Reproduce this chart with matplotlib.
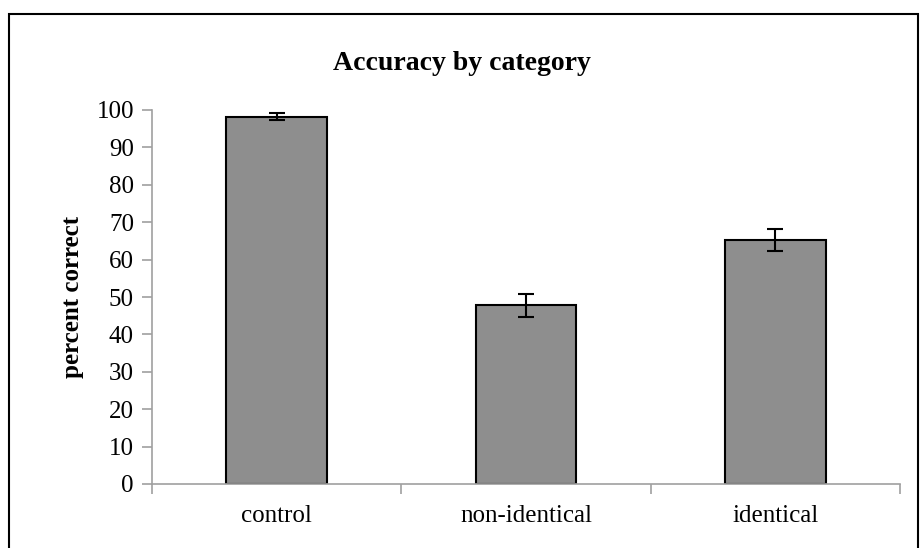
import matplotlib.pyplot as plt
from matplotlib.patches import Rectangle

# data
categories = ['control', 'non-identical', 'identical']
accuracy = [98.2, 47.8, 65.2]
errors = [1.0, 3.1, 3.0]

plt.rcParams['font.family'] = ['Liberation Serif', 'DejaVu Serif']

fig = plt.figure(figsize=(9.23, 5.48), dpi=100)
W, H = 923, 548
ax = fig.add_axes([152 / W, (H - 484) / H, (900 - 152) / W, (484 - 110) / H])

x = list(range(len(categories)))
ax.bar(x, accuracy, width=0.405, color='#8e8e8e', edgecolor='black', linewidth=1.5,
       yerr=errors, error_kw=dict(ecolor='black', elinewidth=1.5, capsize=6, capthick=1.5),
       zorder=2)

ax.set_xlim(-0.5, 2.5)
ax.set_ylim(0, 100)
ax.set_yticks(range(0, 101, 10))
ax.set_xticks([-0.5, 0.5, 1.5, 2.5])
ax.set_xticklabels([])
ax.set_xticks(x, minor=True)
ax.set_xticklabels(categories, minor=True)

for s in ['top', 'right']:
    ax.spines[s].set_visible(False)
for s in ['left', 'bottom']:
    ax.spines[s].set_color('#a0a0a0')
    ax.spines[s].set_linewidth(1.2)

ax.tick_params(axis='y', which='major', direction='out', length=7, width=1.2, color='#a0a0a0',
               labelsize=18, pad=6)
ax.tick_params(axis='x', which='major', direction='out', length=7, width=1.2, color='#a0a0a0')
ax.tick_params(axis='x', which='minor', length=0, labelsize=18, pad=15)

ax.set_ylabel('percent correct', fontsize=18, fontweight='bold', labelpad=9)
fig.text(0.5, (H - 63) / H, 'Accuracy by category', ha='center', va='center',
         fontsize=20, fontweight='bold')

# chart border
fig.patches.append(Rectangle((9 / W, -0.01), (918 - 9) / W, (H - 14) / H + 0.01,
                             transform=fig.transFigure, fill=False,
                             edgecolor='black', linewidth=1.5))

fig.savefig('out.png', dpi=100)
